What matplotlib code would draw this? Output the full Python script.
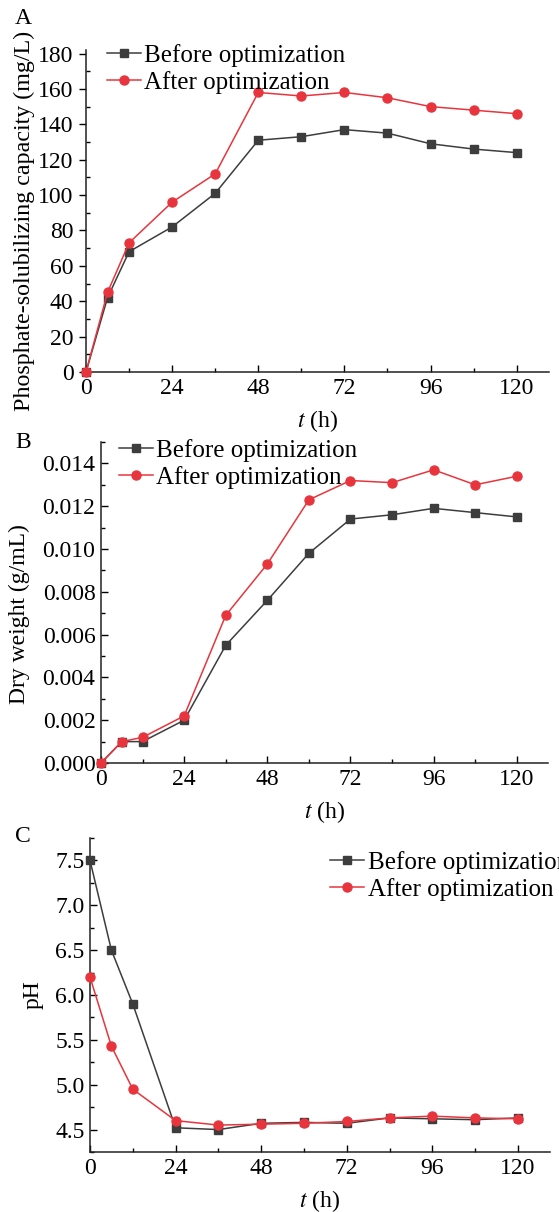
import numpy as np
import matplotlib
matplotlib.use('Agg')
import matplotlib.pyplot as plt
from matplotlib.ticker import MultipleLocator

plt.rcParams['font.family'] = ['Liberation Serif', 'DejaVu Serif']
plt.rcParams['mathtext.fontset'] = 'stix'

# sampling times (h)
hours = [0, 6, 12, 24, 36, 48, 60, 72, 84, 96, 108, 120]

# A: phosphate-solubilizing capacity (mg/L)
phos_before = [0, 42, 68, 82, 101, 131, 133, 137, 135, 129, 126, 124]
phos_after = [0, 45, 73, 96, 112, 158, 156, 158, 155, 150, 148, 146]

# B: dry weight (g/mL)
dry_before = [0, 0.0010, 0.0010, 0.0020, 0.0055, 0.0076, 0.0098, 0.0114, 0.0116, 0.0119, 0.0117, 0.0115]
dry_after = [0, 0.0010, 0.0012, 0.0022, 0.0069, 0.0093, 0.0123, 0.0132, 0.0131, 0.0137, 0.0130, 0.0134]

# C: pH
ph_before = [7.50, 6.50, 5.90, 4.52, 4.50, 4.57, 4.58, 4.57, 4.63, 4.62, 4.61, 4.63]
ph_after = [6.20, 5.43, 4.95, 4.60, 4.55, 4.56, 4.57, 4.59, 4.63, 4.65, 4.63, 4.62]

labels = ['Before optimization', 'After optimization']
c_before = '#3d3d3d'
c_after = '#e8353d'

W, H = 559, 1212
fig = plt.figure(figsize=(W / 100, H / 100), dpi=100)


def px_axes(left, right, top, bottom):
    return fig.add_axes([left / W, 1 - bottom / H, (right - left) / W, (bottom - top) / H])


def draw(ax, before, after, ylim, ymaj, ymin, ylabel, ypad, fmt=None):
    ax.plot(hours, before, color=c_before, marker='s', markersize=5.5, lw=1.1,
            label=labels[0], clip_on=False, zorder=3)
    ax.plot(hours, after, color=c_after, marker='o', markersize=6.5, lw=1.1,
            label=labels[1], clip_on=False, zorder=4)
    ax.set_xlim(0, 129)
    ax.set_ylim(*ylim)
    ax.xaxis.set_major_locator(MultipleLocator(24))
    ax.xaxis.set_minor_locator(MultipleLocator(12))
    ax.yaxis.set_major_locator(MultipleLocator(ymaj))
    ax.yaxis.set_minor_locator(MultipleLocator(ymin))
    if fmt:
        ax.yaxis.set_major_formatter(plt.FormatStrFormatter(fmt))
    for s in ['top', 'right']:
        ax.spines[s].set_visible(False)
    for s in ['left', 'bottom']:
        ax.spines[s].set_linewidth(1.1)
        ax.spines[s].set_color('#222222')
    ax.tick_params(which='major', direction='in', length=5, width=1, labelsize=17, pad=4)
    ax.tick_params(which='minor', direction='in', length=3, width=1)
    ax.set_xlabel('$t$ (h)', fontsize=17, labelpad=7)
    ax.set_ylabel(ylabel, fontsize=17, labelpad=ypad)


axA = px_axes(86, 549, 50, 372)
draw(axA, phos_before, phos_after, (0, 182), 20, 10,
     'Phosphate-solubilizing capacity (mg/L)', 2)
axA.tick_params(axis='y', which='major', direction='out')
axA.yaxis.label.set_fontsize(17.3)
axA.yaxis.label.set_y(0.47)

axB = px_axes(101, 548, 442, 763)
draw(axB, dry_before, dry_after, (0, 0.015), 0.002, 0.001, 'Dry weight (g/mL)', 9, '%.3f')
axB.yaxis.label.set_y(0.465)

axC = px_axes(90, 550, 838, 1152)
draw(axC, ph_before, ph_after, (4.25, 7.75), 0.5, 0.25, 'pH', 8, '%.1f')

leg_kw = dict(frameon=False, fontsize=18, handlelength=1.35, handletextpad=0.15,
              borderpad=0, borderaxespad=0, labelspacing=0.15, loc='upper left')
axA.legend(bbox_to_anchor=(107 / W, 1 - 44 / H), bbox_transform=fig.transFigure, **leg_kw)
axB.legend(bbox_to_anchor=(119 / W, 1 - 439 / H), bbox_transform=fig.transFigure, **leg_kw)
axC.legend(bbox_to_anchor=(330 / W, 1 - 851 / H), bbox_transform=fig.transFigure, **leg_kw)

for lab, y in [('A', 8), ('B', 432), ('C', 826)]:
    fig.text(15 / W, 1 - y / H, lab, fontsize=17, va='top', ha='left')

fig.savefig('out.png', dpi=100)
